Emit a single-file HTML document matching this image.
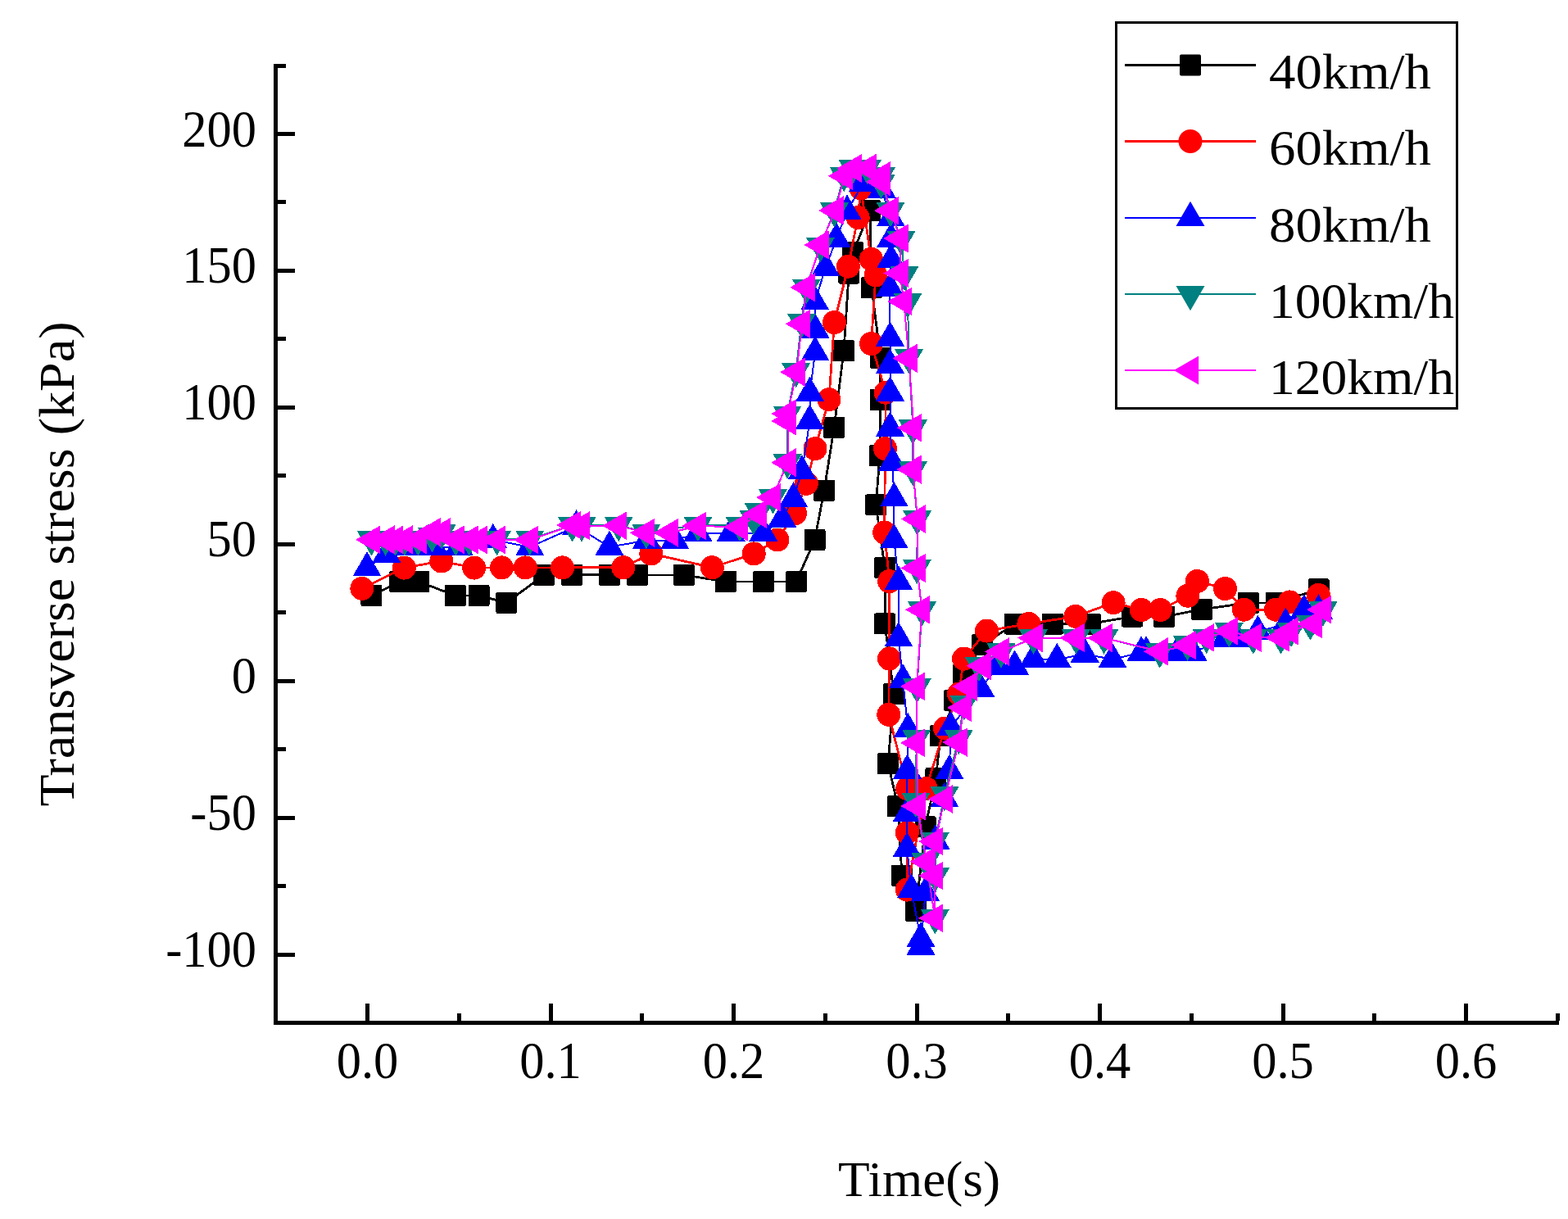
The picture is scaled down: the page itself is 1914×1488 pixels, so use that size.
<!DOCTYPE html>
<html><head><meta charset="utf-8"><title>Transverse stress</title><style>html,body{margin:0;padding:0;background:#fff;}body{width:1914px;height:1488px;overflow:hidden}svg{display:block}text{font-family:"Liberation Serif",serif;fill:#000}</style></head><body>
<svg width="1914" height="1488" viewBox="0 0 1914 1488">
<rect width="1914" height="1488" fill="#fff"/>
<g shape-rendering="crispEdges">
<defs><rect id="sq" x="-13" y="-13" width="26" height="26" rx="2"/><circle id="ci" r="14.5"/><path id="tu" d="M0,-20.2 L17.5,10.1 L-17.5,10.1Z" stroke-linejoin="round"/><path id="td" d="M0,20.2 L17.5,-10.1 L-17.5,-10.1Z" stroke-linejoin="round"/><path id="tl" d="M-20.2,0 L10.1,-17.5 L10.1,17.5Z" stroke-linejoin="round"/></defs>
<g>
<polyline points="453.4,727 488.1,710 511.1,710 555.9,727 584.6,727 618.3,735.8 664,701.8 698.2,701.8 743.9,701.9 777.9,701.9 834.8,701.9 886,710 932,710 972,710 994.5,658.9 1006,598.9 1018.2,521.9 1030,428.2 1036.2,333.5 1041.2,308.3 1062,257.3 1064,351 1074.8,436.8 1074.8,488 1074,556 1069.2,616.3 1080.1,693 1080.1,761.4 1091.1,847 1084,932 1096,984 1101,1068.8 1117.9,1111.8 1129.5,1009.3 1142.4,949.9 1148,898 1165.2,855.2 1176.1,823.4 1199.2,787 1239.1,761.5 1285,761.5 1330.7,761.5 1381.9,752.6 1421.2,752.8 1466.8,743.9 1523.9,735.9 1558,735.9 1609.5,719.2" fill="none" stroke="#000000" stroke-width="2.8" stroke-linejoin="round"/>
<g fill="#000000">
<use href="#sq" x="453.4" y="727"/>
<use href="#sq" x="488.1" y="710"/>
<use href="#sq" x="511.1" y="710"/>
<use href="#sq" x="555.9" y="727"/>
<use href="#sq" x="584.6" y="727"/>
<use href="#sq" x="618.3" y="735.8"/>
<use href="#sq" x="664" y="701.8"/>
<use href="#sq" x="698.2" y="701.8"/>
<use href="#sq" x="743.9" y="701.9"/>
<use href="#sq" x="777.9" y="701.9"/>
<use href="#sq" x="834.8" y="701.9"/>
<use href="#sq" x="886" y="710"/>
<use href="#sq" x="932" y="710"/>
<use href="#sq" x="972" y="710"/>
<use href="#sq" x="994.5" y="658.9"/>
<use href="#sq" x="1006" y="598.9"/>
<use href="#sq" x="1018.2" y="521.9"/>
<use href="#sq" x="1030" y="428.2"/>
<use href="#sq" x="1036.2" y="333.5"/>
<use href="#sq" x="1041.2" y="308.3"/>
<use href="#sq" x="1062" y="257.3"/>
<use href="#sq" x="1064" y="351"/>
<use href="#sq" x="1074.8" y="436.8"/>
<use href="#sq" x="1074.8" y="488"/>
<use href="#sq" x="1074" y="556"/>
<use href="#sq" x="1069.2" y="616.3"/>
<use href="#sq" x="1080.1" y="693"/>
<use href="#sq" x="1080.1" y="761.4"/>
<use href="#sq" x="1091.1" y="847"/>
<use href="#sq" x="1084" y="932"/>
<use href="#sq" x="1096" y="984"/>
<use href="#sq" x="1101" y="1068.8"/>
<use href="#sq" x="1117.9" y="1111.8"/>
<use href="#sq" x="1129.5" y="1009.3"/>
<use href="#sq" x="1142.4" y="949.9"/>
<use href="#sq" x="1148" y="898"/>
<use href="#sq" x="1165.2" y="855.2"/>
<use href="#sq" x="1176.1" y="823.4"/>
<use href="#sq" x="1199.2" y="787"/>
<use href="#sq" x="1239.1" y="761.5"/>
<use href="#sq" x="1285" y="761.5"/>
<use href="#sq" x="1330.7" y="761.5"/>
<use href="#sq" x="1381.9" y="752.6"/>
<use href="#sq" x="1421.2" y="752.8"/>
<use href="#sq" x="1466.8" y="743.9"/>
<use href="#sq" x="1523.9" y="735.9"/>
<use href="#sq" x="1558" y="735.9"/>
<use href="#sq" x="1609.5" y="719.2"/>
</g></g>
<g>
<polyline points="441.9,718.4 493.4,693.1 538.8,685 578.7,693.1 612.5,692.9 641.3,692.9 686.5,692.9 760.8,692.7 794.8,675.9 869.3,692.7 920.2,675.9 948.9,659 970.5,626.8 984.3,590.3 995,547.7 1011.9,487.7 1018.4,393.6 1035.4,325.2 1047.2,265.6 1051,230 1063.3,316.2 1069,336 1063.5,419.5 1081.3,479.2 1080.5,547.7 1079.6,650 1085.7,709.6 1085.5,804 1084.8,872.3 1107.7,962.6 1107.3,1016.3 1107.3,1086.1 1130.3,962.6 1153.5,889 1170.5,847 1176.5,804.1 1204.5,770 1255.9,761.4 1312.9,752.4 1359.1,735.7 1393.2,744.5 1416.3,744.5 1449.9,727.2 1461.4,709.4 1495.5,718.6 1518.5,744.2 1557.4,744.2 1574.3,734.9 1609.4,726.4" fill="none" stroke="#ff0000" stroke-width="2.8" stroke-linejoin="round"/>
<g fill="#ff0000">
<use href="#ci" x="441.9" y="718.4"/>
<use href="#ci" x="493.4" y="693.1"/>
<use href="#ci" x="538.8" y="685"/>
<use href="#ci" x="578.7" y="693.1"/>
<use href="#ci" x="612.5" y="692.9"/>
<use href="#ci" x="641.3" y="692.9"/>
<use href="#ci" x="686.5" y="692.9"/>
<use href="#ci" x="760.8" y="692.7"/>
<use href="#ci" x="794.8" y="675.9"/>
<use href="#ci" x="869.3" y="692.7"/>
<use href="#ci" x="920.2" y="675.9"/>
<use href="#ci" x="948.9" y="659"/>
<use href="#ci" x="970.5" y="626.8"/>
<use href="#ci" x="984.3" y="590.3"/>
<use href="#ci" x="995" y="547.7"/>
<use href="#ci" x="1011.9" y="487.7"/>
<use href="#ci" x="1018.4" y="393.6"/>
<use href="#ci" x="1035.4" y="325.2"/>
<use href="#ci" x="1047.2" y="265.6"/>
<use href="#ci" x="1051" y="230"/>
<use href="#ci" x="1063.3" y="316.2"/>
<use href="#ci" x="1069" y="336"/>
<use href="#ci" x="1063.5" y="419.5"/>
<use href="#ci" x="1081.3" y="479.2"/>
<use href="#ci" x="1080.5" y="547.7"/>
<use href="#ci" x="1079.6" y="650"/>
<use href="#ci" x="1085.7" y="709.6"/>
<use href="#ci" x="1085.5" y="804"/>
<use href="#ci" x="1084.8" y="872.3"/>
<use href="#ci" x="1107.7" y="962.6"/>
<use href="#ci" x="1107.3" y="1016.3"/>
<use href="#ci" x="1107.3" y="1086.1"/>
<use href="#ci" x="1130.3" y="962.6"/>
<use href="#ci" x="1153.5" y="889"/>
<use href="#ci" x="1170.5" y="847"/>
<use href="#ci" x="1176.5" y="804.1"/>
<use href="#ci" x="1204.5" y="770"/>
<use href="#ci" x="1255.9" y="761.4"/>
<use href="#ci" x="1312.9" y="752.4"/>
<use href="#ci" x="1359.1" y="735.7"/>
<use href="#ci" x="1393.2" y="744.5"/>
<use href="#ci" x="1416.3" y="744.5"/>
<use href="#ci" x="1449.9" y="727.2"/>
<use href="#ci" x="1461.4" y="709.4"/>
<use href="#ci" x="1495.5" y="718.6"/>
<use href="#ci" x="1518.5" y="744.2"/>
<use href="#ci" x="1557.4" y="744.2"/>
<use href="#ci" x="1574.3" y="734.9"/>
<use href="#ci" x="1609.4" y="726.4"/>
</g></g>
<g>
<polyline points="448,693.3 471.8,676.6 500,667.5 530,667.5 560,667.5 601.8,659 646.8,667.8 703.5,642.5 743.9,667.7 789.3,659.7 823.7,659.7 851.9,650.6 892.2,650.6 931.8,650.6 954.7,633.4 968.4,608.5 978.9,575.3 988.5,513.5 988.5,479.8 995,430.2 995.3,403 994.7,368.3 1007.7,326.9 1021,291.7 1034,257.8 1053.5,223.8 1076.5,232 1087.4,266.4 1087.7,291.6 1087.7,317.1 1086.4,352 1086.5,412.4 1086.5,445.5 1086.5,479.4 1086.5,522.4 1089.4,564.8 1091.4,608.3 1091.4,659.3 1096.9,710.2 1096.9,779.2 1102.1,830.2 1108.3,890 1107.5,940.5 1107.2,992.7 1107.2,1035.8 1112.4,1086.3 1124,1145.8 1124,1155.6 1129.6,1089.8 1142,1026.6 1152.9,975 1159,940.9 1160.4,888 1197,841 1217.6,813.6 1238.6,813.6 1261.5,804.6 1290.3,804.9 1324.2,798.4 1358,804.9 1393.2,796.5 1399.2,796.5 1437,796.6 1456,796.6 1495.3,779.6 1510.3,779.6 1535.4,770.9 1569.3,761.8 1591.9,745.5 1609.4,745.5" fill="none" stroke="#0000ff" stroke-width="2" stroke-linejoin="round"/>
<g fill="#0000ff">
<use href="#tu" x="448" y="693.3"/>
<use href="#tu" x="471.8" y="676.6"/>
<use href="#tu" x="500" y="667.5"/>
<use href="#tu" x="530" y="667.5"/>
<use href="#tu" x="560" y="667.5"/>
<use href="#tu" x="601.8" y="659"/>
<use href="#tu" x="646.8" y="667.8"/>
<use href="#tu" x="703.5" y="642.5"/>
<use href="#tu" x="743.9" y="667.7"/>
<use href="#tu" x="789.3" y="659.7"/>
<use href="#tu" x="823.7" y="659.7"/>
<use href="#tu" x="851.9" y="650.6"/>
<use href="#tu" x="892.2" y="650.6"/>
<use href="#tu" x="931.8" y="650.6"/>
<use href="#tu" x="954.7" y="633.4"/>
<use href="#tu" x="968.4" y="608.5"/>
<use href="#tu" x="978.9" y="575.3"/>
<use href="#tu" x="988.5" y="513.5"/>
<use href="#tu" x="988.5" y="479.8"/>
<use href="#tu" x="995" y="430.2"/>
<use href="#tu" x="995.3" y="403"/>
<use href="#tu" x="994.7" y="368.3"/>
<use href="#tu" x="1007.7" y="326.9"/>
<use href="#tu" x="1021" y="291.7"/>
<use href="#tu" x="1034" y="257.8"/>
<use href="#tu" x="1053.5" y="223.8"/>
<use href="#tu" x="1076.5" y="232"/>
<use href="#tu" x="1087.4" y="266.4"/>
<use href="#tu" x="1087.7" y="291.6"/>
<use href="#tu" x="1087.7" y="317.1"/>
<use href="#tu" x="1086.4" y="352"/>
<use href="#tu" x="1086.5" y="412.4"/>
<use href="#tu" x="1086.5" y="445.5"/>
<use href="#tu" x="1086.5" y="479.4"/>
<use href="#tu" x="1086.5" y="522.4"/>
<use href="#tu" x="1089.4" y="564.8"/>
<use href="#tu" x="1091.4" y="608.3"/>
<use href="#tu" x="1091.4" y="659.3"/>
<use href="#tu" x="1096.9" y="710.2"/>
<use href="#tu" x="1096.9" y="779.2"/>
<use href="#tu" x="1102.1" y="830.2"/>
<use href="#tu" x="1108.3" y="890"/>
<use href="#tu" x="1107.5" y="940.5"/>
<use href="#tu" x="1107.2" y="992.7"/>
<use href="#tu" x="1107.2" y="1035.8"/>
<use href="#tu" x="1112.4" y="1086.3"/>
<use href="#tu" x="1124" y="1145.8"/>
<use href="#tu" x="1124" y="1155.6"/>
<use href="#tu" x="1129.6" y="1089.8"/>
<use href="#tu" x="1142" y="1026.6"/>
<use href="#tu" x="1152.9" y="975"/>
<use href="#tu" x="1159" y="940.9"/>
<use href="#tu" x="1160.4" y="888"/>
<use href="#tu" x="1197" y="841"/>
<use href="#tu" x="1217.6" y="813.6"/>
<use href="#tu" x="1238.6" y="813.6"/>
<use href="#tu" x="1261.5" y="804.6"/>
<use href="#tu" x="1290.3" y="804.9"/>
<use href="#tu" x="1324.2" y="798.4"/>
<use href="#tu" x="1358" y="804.9"/>
<use href="#tu" x="1393.2" y="796.5"/>
<use href="#tu" x="1399.2" y="796.5"/>
<use href="#tu" x="1437" y="796.6"/>
<use href="#tu" x="1456" y="796.6"/>
<use href="#tu" x="1495.3" y="779.6"/>
<use href="#tu" x="1510.3" y="779.6"/>
<use href="#tu" x="1535.4" y="770.9"/>
<use href="#tu" x="1569.3" y="761.8"/>
<use href="#tu" x="1591.9" y="745.5"/>
<use href="#tu" x="1609.4" y="745.5"/>
</g></g>
<g>
<polyline points="453.4,658.5 470.6,658.5 482.7,658.5 494,658.5 510.3,658.5 527.4,654.3 539.1,650.3 556.3,658.5 572.6,658.5 606.6,658 646.8,658 698.6,641.4 710.1,641.4 755.2,641 788.9,650 852,641 903,641 919.8,633 926,624 943.4,607.3 961.1,564.5 961.1,505.6 971.6,453.2 978.4,393 984.4,351 1001.4,300 1018.4,257.5 1030.2,214.1 1041,205 1058.6,205 1075.5,214.1 1075.5,222.6 1087,257 1100,292 1104,335 1108,368 1109.5,436.3 1114.4,522.6 1114.4,573.4 1119.7,633.4 1119.4,693.2 1125.5,744.3 1119.4,838.1 1118.7,901 1118,978 1130.1,1051.3 1141.4,1120.2 1141.6,1069.2 1141.4,1026.2 1153,970.2 1170.3,901 1176.6,858.9 1195,812 1222,795.6 1261.5,778.6 1313.5,778.6 1347.6,778.6 1415.7,795.5 1449.5,786.6 1472.7,777.8 1500.3,770.3 1529.8,778.4 1563.6,778.4 1576,770 1599.4,761.5 1615,744.6" fill="none" stroke="#008080" stroke-width="2" stroke-linejoin="round"/>
<g fill="#008080">
<use href="#td" x="453.4" y="658.5"/>
<use href="#td" x="470.6" y="658.5"/>
<use href="#td" x="482.7" y="658.5"/>
<use href="#td" x="494" y="658.5"/>
<use href="#td" x="510.3" y="658.5"/>
<use href="#td" x="527.4" y="654.3"/>
<use href="#td" x="539.1" y="650.3"/>
<use href="#td" x="556.3" y="658.5"/>
<use href="#td" x="572.6" y="658.5"/>
<use href="#td" x="606.6" y="658"/>
<use href="#td" x="646.8" y="658"/>
<use href="#td" x="698.6" y="641.4"/>
<use href="#td" x="710.1" y="641.4"/>
<use href="#td" x="755.2" y="641"/>
<use href="#td" x="788.9" y="650"/>
<use href="#td" x="852" y="641"/>
<use href="#td" x="903" y="641"/>
<use href="#td" x="919.8" y="633"/>
<use href="#td" x="926" y="624"/>
<use href="#td" x="943.4" y="607.3"/>
<use href="#td" x="961.1" y="564.5"/>
<use href="#td" x="961.1" y="505.6"/>
<use href="#td" x="971.6" y="453.2"/>
<use href="#td" x="978.4" y="393"/>
<use href="#td" x="984.4" y="351"/>
<use href="#td" x="1001.4" y="300"/>
<use href="#td" x="1018.4" y="257.5"/>
<use href="#td" x="1030.2" y="214.1"/>
<use href="#td" x="1041" y="205"/>
<use href="#td" x="1058.6" y="205"/>
<use href="#td" x="1075.5" y="214.1"/>
<use href="#td" x="1075.5" y="222.6"/>
<use href="#td" x="1087" y="257"/>
<use href="#td" x="1100" y="292"/>
<use href="#td" x="1104" y="335"/>
<use href="#td" x="1108" y="368"/>
<use href="#td" x="1109.5" y="436.3"/>
<use href="#td" x="1114.4" y="522.6"/>
<use href="#td" x="1114.4" y="573.4"/>
<use href="#td" x="1119.7" y="633.4"/>
<use href="#td" x="1119.4" y="693.2"/>
<use href="#td" x="1125.5" y="744.3"/>
<use href="#td" x="1119.4" y="838.1"/>
<use href="#td" x="1118.7" y="901"/>
<use href="#td" x="1118" y="978"/>
<use href="#td" x="1130.1" y="1051.3"/>
<use href="#td" x="1141.4" y="1120.2"/>
<use href="#td" x="1141.6" y="1069.2"/>
<use href="#td" x="1141.4" y="1026.2"/>
<use href="#td" x="1153" y="970.2"/>
<use href="#td" x="1170.3" y="901"/>
<use href="#td" x="1176.6" y="858.9"/>
<use href="#td" x="1195" y="812"/>
<use href="#td" x="1222" y="795.6"/>
<use href="#td" x="1261.5" y="778.6"/>
<use href="#td" x="1313.5" y="778.6"/>
<use href="#td" x="1347.6" y="778.6"/>
<use href="#td" x="1415.7" y="795.5"/>
<use href="#td" x="1449.5" y="786.6"/>
<use href="#td" x="1472.7" y="777.8"/>
<use href="#td" x="1500.3" y="770.3"/>
<use href="#td" x="1529.8" y="778.4"/>
<use href="#td" x="1563.6" y="778.4"/>
<use href="#td" x="1576" y="770"/>
<use href="#td" x="1599.4" y="761.5"/>
<use href="#td" x="1615" y="744.6"/>
</g></g>
<g>
<polyline points="454.2,658.9 471.4,658.9 482.3,658.9 493.5,658.9 510.5,658.9 527.4,649.7 539.5,649.7 556.7,658.9 573.8,658.9 584.9,659 607.1,659 647.3,659 699.3,641 709.7,641.7 755.2,641.7 788.9,650.3 817.9,650.3 852.3,642 903.3,643.3 926,627.6 943.2,607.2 961.5,564.7 961.5,513.9 961.5,505 972.4,454.2 978.9,395.3 984.6,350.8 1001.6,299 1019.4,256.9 1030.9,214.8 1041.9,205.5 1059.9,205 1076.9,214.5 1076.9,222 1087.2,257.1 1098.6,291 1098.6,333.5 1103.2,368 1109.5,437.3 1115.2,522.3 1114.4,573.1 1120,633.5 1119.5,693.4 1125.3,744.3 1119.1,837.9 1119.3,906.9 1119.8,984 1131,1051.9 1141.2,1120.7 1141.2,1069 1141.2,1027 1153.2,975.5 1170.4,906.1 1176.3,863.9 1182.4,838 1199.7,812.8 1222.2,795.5 1262.4,778.6 1313.5,778.6 1347.4,778.6 1416.3,795.3 1449.5,787.6 1472.3,778.4 1501.2,770.3 1529.4,778.4 1564.2,778.4 1575.2,770.3 1603.4,761.5 1615.3,744.2" fill="none" stroke="#ff00ff" stroke-width="2" stroke-linejoin="round"/>
<g fill="#ff00ff">
<use href="#tl" x="454.2" y="658.9"/>
<use href="#tl" x="471.4" y="658.9"/>
<use href="#tl" x="482.3" y="658.9"/>
<use href="#tl" x="493.5" y="658.9"/>
<use href="#tl" x="510.5" y="658.9"/>
<use href="#tl" x="527.4" y="649.7"/>
<use href="#tl" x="539.5" y="649.7"/>
<use href="#tl" x="556.7" y="658.9"/>
<use href="#tl" x="573.8" y="658.9"/>
<use href="#tl" x="584.9" y="659"/>
<use href="#tl" x="607.1" y="659"/>
<use href="#tl" x="647.3" y="659"/>
<use href="#tl" x="699.3" y="641"/>
<use href="#tl" x="709.7" y="641.7"/>
<use href="#tl" x="755.2" y="641.7"/>
<use href="#tl" x="788.9" y="650.3"/>
<use href="#tl" x="817.9" y="650.3"/>
<use href="#tl" x="852.3" y="642"/>
<use href="#tl" x="903.3" y="643.3"/>
<use href="#tl" x="926" y="627.6"/>
<use href="#tl" x="943.2" y="607.2"/>
<use href="#tl" x="961.5" y="564.7"/>
<use href="#tl" x="961.5" y="513.9"/>
<use href="#tl" x="961.5" y="505"/>
<use href="#tl" x="972.4" y="454.2"/>
<use href="#tl" x="978.9" y="395.3"/>
<use href="#tl" x="984.6" y="350.8"/>
<use href="#tl" x="1001.6" y="299"/>
<use href="#tl" x="1019.4" y="256.9"/>
<use href="#tl" x="1030.9" y="214.8"/>
<use href="#tl" x="1041.9" y="205.5"/>
<use href="#tl" x="1059.9" y="205"/>
<use href="#tl" x="1076.9" y="214.5"/>
<use href="#tl" x="1076.9" y="222"/>
<use href="#tl" x="1087.2" y="257.1"/>
<use href="#tl" x="1098.6" y="291"/>
<use href="#tl" x="1098.6" y="333.5"/>
<use href="#tl" x="1103.2" y="368"/>
<use href="#tl" x="1109.5" y="437.3"/>
<use href="#tl" x="1115.2" y="522.3"/>
<use href="#tl" x="1114.4" y="573.1"/>
<use href="#tl" x="1120" y="633.5"/>
<use href="#tl" x="1119.5" y="693.4"/>
<use href="#tl" x="1125.3" y="744.3"/>
<use href="#tl" x="1119.1" y="837.9"/>
<use href="#tl" x="1119.3" y="906.9"/>
<use href="#tl" x="1119.8" y="984"/>
<use href="#tl" x="1131" y="1051.9"/>
<use href="#tl" x="1141.2" y="1120.7"/>
<use href="#tl" x="1141.2" y="1069"/>
<use href="#tl" x="1141.2" y="1027"/>
<use href="#tl" x="1153.2" y="975.5"/>
<use href="#tl" x="1170.4" y="906.1"/>
<use href="#tl" x="1176.3" y="863.9"/>
<use href="#tl" x="1182.4" y="838"/>
<use href="#tl" x="1199.7" y="812.8"/>
<use href="#tl" x="1222.2" y="795.5"/>
<use href="#tl" x="1262.4" y="778.6"/>
<use href="#tl" x="1313.5" y="778.6"/>
<use href="#tl" x="1347.4" y="778.6"/>
<use href="#tl" x="1416.3" y="795.3"/>
<use href="#tl" x="1449.5" y="787.6"/>
<use href="#tl" x="1472.3" y="778.4"/>
<use href="#tl" x="1501.2" y="770.3"/>
<use href="#tl" x="1529.4" y="778.4"/>
<use href="#tl" x="1564.2" y="778.4"/>
<use href="#tl" x="1575.2" y="770.3"/>
<use href="#tl" x="1603.4" y="761.5"/>
<use href="#tl" x="1615.3" y="744.2"/>
</g></g>
<g fill="#000">
<rect x="334" y="77.5" width="5" height="1173.5"/>
<rect x="334" y="1246" width="1569" height="5"/>
<rect x="339" y="1162.5" width="21" height="5"/>
<rect x="339" y="1079.1" width="10" height="5"/>
<rect x="339" y="995.6" width="21" height="5"/>
<rect x="339" y="912.1" width="10" height="5"/>
<rect x="339" y="828.7" width="21" height="5"/>
<rect x="339" y="745.2" width="10" height="5"/>
<rect x="339" y="661.8" width="21" height="5"/>
<rect x="339" y="578.3" width="10" height="5"/>
<rect x="339" y="494.8" width="21" height="5"/>
<rect x="339" y="411.4" width="10" height="5"/>
<rect x="339" y="327.9" width="21" height="5"/>
<rect x="339" y="244.4" width="10" height="5"/>
<rect x="339" y="161" width="21" height="5"/>
<rect x="339" y="77.5" width="10" height="5"/>
<rect x="446" y="1225" width="5" height="21"/>
<rect x="557.8" y="1237" width="5" height="9"/>
<rect x="669.5" y="1225" width="5" height="21"/>
<rect x="781.2" y="1237" width="5" height="9"/>
<rect x="893" y="1225" width="5" height="21"/>
<rect x="1004.8" y="1237" width="5" height="9"/>
<rect x="1116.5" y="1225" width="5" height="21"/>
<rect x="1228.2" y="1237" width="5" height="9"/>
<rect x="1340" y="1225" width="5" height="21"/>
<rect x="1451.8" y="1237" width="5" height="9"/>
<rect x="1563.5" y="1225" width="5" height="21"/>
<rect x="1675.2" y="1237" width="5" height="9"/>
<rect x="1787" y="1225" width="5" height="21"/>
<rect x="1898.8" y="1237" width="5" height="9"/>
</g>
</g>
<text transform="translate(313,178.5) scale(0.96,1)" font-size="63" text-anchor="end">200</text>
<text transform="translate(313,345.4) scale(0.96,1)" font-size="63" text-anchor="end">150</text>
<text transform="translate(313,512.3) scale(0.96,1)" font-size="63" text-anchor="end">100</text>
<text transform="translate(313,679.3) scale(0.96,1)" font-size="63" text-anchor="end">50</text>
<text transform="translate(313,846.2) scale(0.96,1)" font-size="63" text-anchor="end">0</text>
<text transform="translate(313,1013.1) scale(0.96,1)" font-size="63" text-anchor="end">-50</text>
<text transform="translate(313,1180) scale(0.96,1)" font-size="63" text-anchor="end">-100</text>
<text transform="translate(448.5,1316) scale(0.96,1)" font-size="63" text-anchor="middle">0.0</text>
<text transform="translate(672,1316) scale(0.96,1)" font-size="63" text-anchor="middle">0.1</text>
<text transform="translate(895.5,1316) scale(0.96,1)" font-size="63" text-anchor="middle">0.2</text>
<text transform="translate(1119,1316) scale(0.96,1)" font-size="63" text-anchor="middle">0.3</text>
<text transform="translate(1342.5,1316) scale(0.96,1)" font-size="63" text-anchor="middle">0.4</text>
<text transform="translate(1566,1316) scale(0.96,1)" font-size="63" text-anchor="middle">0.5</text>
<text transform="translate(1789.5,1316) scale(0.96,1)" font-size="63" text-anchor="middle">0.6</text>
<text x="1122" y="1459.5" font-size="61" text-anchor="middle" textLength="198" lengthAdjust="spacingAndGlyphs">Time(s)</text>
<text transform="translate(89.5,688.5) rotate(-90)" x="0" y="0" font-size="61" text-anchor="middle" textLength="592" lengthAdjust="spacingAndGlyphs">Transverse stress (kPa)</text>
<rect x="1362.5" y="27.5" width="416" height="471" fill="none" stroke="#000" stroke-width="3"/>
<line x1="1373" y1="79.5" x2="1533" y2="79.5" stroke="#000000" stroke-width="3"/>
<use href="#sq" x="1453" y="79.5" fill="#000000"/>
<text x="1549" y="108" font-size="61" textLength="198" lengthAdjust="spacingAndGlyphs">40km/h</text>
<line x1="1373" y1="172.5" x2="1533" y2="172.5" stroke="#ff0000" stroke-width="3"/>
<use href="#ci" x="1453" y="172.5" fill="#ff0000"/>
<text x="1549" y="201" font-size="61" textLength="198" lengthAdjust="spacingAndGlyphs">60km/h</text>
<line x1="1373" y1="266" x2="1533" y2="266" stroke="#0000ff" stroke-width="2"/>
<use href="#tu" x="1453" y="266" fill="#0000ff"/>
<text x="1549" y="294.5" font-size="61" textLength="198" lengthAdjust="spacingAndGlyphs">80km/h</text>
<line x1="1373" y1="359" x2="1533" y2="359" stroke="#008080" stroke-width="2"/>
<use href="#td" x="1453" y="359" fill="#008080"/>
<text x="1549" y="387.5" font-size="61" textLength="226" lengthAdjust="spacingAndGlyphs">100km/h</text>
<line x1="1373" y1="452" x2="1533" y2="452" stroke="#ff00ff" stroke-width="2"/>
<use href="#tl" x="1453" y="452" fill="#ff00ff"/>
<text x="1549" y="480.5" font-size="61" textLength="226" lengthAdjust="spacingAndGlyphs">120km/h</text>
</svg></body></html>
